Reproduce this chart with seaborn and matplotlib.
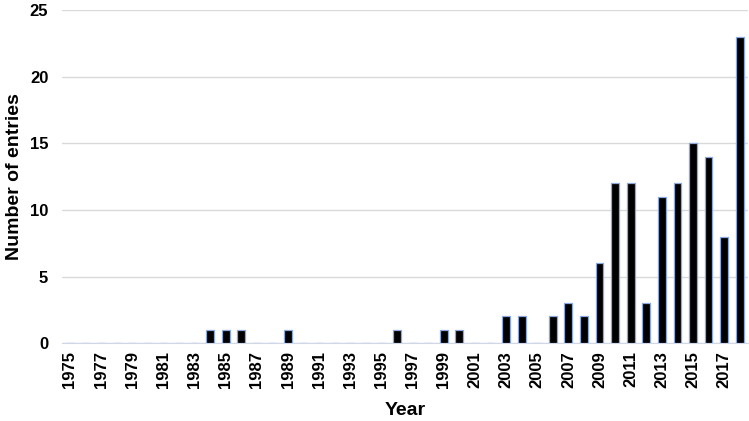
import pandas as pd
import seaborn as sns
import matplotlib.pyplot as plt

# Jahre 1975-2018 und Anzahl Einträge pro Jahr
years = list(range(1975, 2019))
counts = [0, 0, 0, 0, 0, 0, 0, 0, 0,   # 1975-1983
          1, 1, 1, 0, 0, 1,            # 1984-1989
          0, 0, 0, 0, 0, 0, 1, 0, 0,   # 1990-1998
          1, 1, 0, 0, 2, 2, 0,         # 1999-2005
          2, 3, 2, 6, 12, 12, 3,       # 2006-2012
          11, 12, 15, 14, 8, 23]       # 2013-2018
y_ticks = [0, 5, 10, 15, 20, 25]

df = pd.DataFrame({'Year': [str(y) for y in years], 'Count': counts})

sns.set_style('white')
plt.rcParams['font.family'] = ['Liberation Sans', 'DejaVu Sans']
plt.rcParams['font.weight'] = 'bold'
plt.rcParams['text.color'] = 'black'
plt.rcParams['axes.labelcolor'] = 'black'
plt.rcParams['xtick.color'] = 'black'
plt.rcParams['ytick.color'] = 'black'

fig = plt.figure(figsize=(7.49, 4.21), dpi=100)
ax = fig.add_axes([0.083, 0.185, 0.915, 0.791])

sns.barplot(data=df, x='Year', y='Count', color='black', width=0.5,
            edgecolor='#8aa8dc', linewidth=0.9, ax=ax, zorder=3)

ax.set_ylim(0, 25)
ax.set_yticks(y_ticks)
ax.set_xlim(-0.5, len(years) - 0.5)
ax.yaxis.grid(True, color='#d9d9d9', linewidth=1, zorder=0)
ax.set_axisbelow(True)
for s in ['top', 'right', 'left']:
    ax.spines[s].set_visible(False)
ax.spines['bottom'].set_color('#d0d8e8')

ax.set_xticks(range(0, len(years), 2))
ax.set_xticklabels([str(y) for y in years[::2]], rotation=90, fontsize=12, fontweight='bold')
ax.tick_params(axis='y', labelsize=12, length=0, pad=10)
ax.tick_params(axis='x', length=0, pad=6)
for t in ax.get_yticklabels():
    t.set_fontweight('bold')

ax.set_xlabel('Year', fontsize=14, fontweight='bold', labelpad=10)
ax.set_ylabel('Number of entries', fontsize=14, fontweight='bold', labelpad=5)

fig.savefig('out.png', dpi=100)
